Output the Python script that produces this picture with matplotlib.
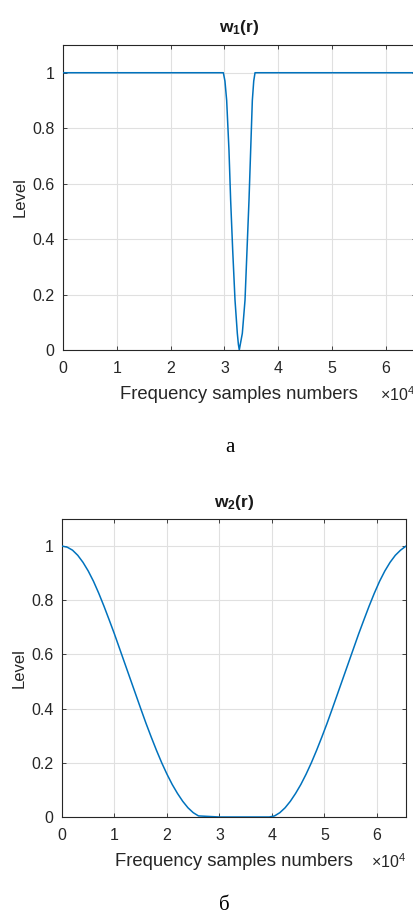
import matplotlib
matplotlib.use("Agg")
import matplotlib.pyplot as plt
from matplotlib.ticker import FixedLocator, FuncFormatter

# ---- data ----
# w1(r): flat 1 with a narrow notch around the middle
w1_x = [0, 29000, 29800, 30100, 30420, 30850, 31160, 31540, 31970, 32400, 32600, 32768,
        32950, 33330, 33830, 34200, 34570, 34880, 35190, 35450, 35690, 36500, 65536]
w1_y = [1.0, 1.0, 1.0, 0.97, 0.90, 0.72, 0.54, 0.36, 0.18, 0.06, 0.02, 0.0,
        0.02, 0.06, 0.18, 0.36, 0.54, 0.72, 0.90, 0.97, 1.0, 1.0, 1.0]

# w2(r): smooth descent to zero, flat zero band, smooth rise back to 1
w2_x = [0, 1000, 2000, 3000, 4000, 5000, 6000, 7000, 8000, 9000, 10000, 11000, 12000,
        13000, 14000, 15000, 16000, 17000, 18000, 19000, 20000, 21000, 22000, 23000,
        24000, 25000, 26000, 30000, 35000, 39500,
        40500, 41500, 42500, 43500, 44500, 45500, 46500, 47500, 48500, 49500, 50500,
        51500, 52500, 53500, 54500, 55500, 56500, 57500, 58500, 59500, 60500, 61500,
        62500, 63500, 64500, 65536]
w2_y = [1.0, 0.996, 0.985, 0.966, 0.94, 0.908, 0.87, 0.826, 0.778, 0.727, 0.675, 0.62,
        0.565, 0.51, 0.455, 0.40, 0.346, 0.295, 0.246, 0.2, 0.158, 0.12, 0.087, 0.058,
        0.034, 0.016, 0.004, 0.0, 0.0, 0.0,
        0.004, 0.016, 0.034, 0.058, 0.087, 0.12, 0.158, 0.2, 0.246, 0.295, 0.346,
        0.40, 0.455, 0.51, 0.565, 0.62, 0.675, 0.727, 0.778, 0.826, 0.87, 0.908,
        0.94, 0.966, 0.985, 1.0]

x_ticks = [0, 10000, 20000, 30000, 40000, 50000, 60000]
y_ticks = [0, 0.2, 0.4, 0.6, 0.8, 1.0]
titles = [r"$\mathbf{w_1(r)}$", r"$\mathbf{w_2(r)}$"]
captions = ["a", "б"]
xlabel = "Frequency samples numbers"
ylabel = "Level"

plt.rcParams["font.family"] = ["Liberation Sans", "DejaVu Sans"]
plt.rcParams["mathtext.fontset"] = "custom"
plt.rcParams["mathtext.rm"] = "Liberation Sans"
plt.rcParams["mathtext.bf"] = "Liberation Sans:bold"
plt.rcParams["mathtext.it"] = "Liberation Sans:italic"

fig = plt.figure(figsize=(4.14, 9.22), dpi=100)

W, H = 414.0, 922.0
boxes = [
    (63, 415.6, 45, 350),
    (62, 406, 519, 817),
]
datas = [(w1_x, w1_y), (w2_x, w2_y)]
caption_y = [447, 905]
offset_y = [395, 862]

line_color = "#0072BD"
spine_col = "#262626"

for i, ((l, r, t, b), (xs, ys)) in enumerate(zip(boxes, datas)):
    ax = fig.add_axes([l / W, 1 - b / H, (r - l) / W, (b - t) / H])
    ax.plot(xs, ys, color=line_color, lw=1.1, zorder=3)
    ax.set_xlim(0, 65536)
    ax.set_ylim(0, 1.1)
    ax.xaxis.set_major_locator(FixedLocator(x_ticks))
    ax.yaxis.set_major_locator(FixedLocator(y_ticks))
    ax.xaxis.set_major_formatter(FuncFormatter(lambda v, p: f"{v/1e4:g}"))
    ax.yaxis.set_major_formatter(FuncFormatter(lambda v, p: f"{v:g}"))
    ax.grid(True, color="#e0e0e0", lw=0.8, zorder=0)
    ax.tick_params(direction="in", length=3, width=0.6, colors=spine_col,
                   labelsize=11.5, labelcolor="#262626", top=True, right=True)
    ax.tick_params(axis="x", pad=8)
    ax.tick_params(axis="y", pad=6)
    for s in ax.spines.values():
        s.set_color(spine_col)
        s.set_linewidth(0.8)
    ax.set_title(titles[i], fontsize=12.5, color="#1a1a1a", pad=9)
    ax.set_xlabel(xlabel, fontsize=13.3, color="#262626", labelpad=7)
    ax.set_ylabel(ylabel, fontsize=12, color="#262626", labelpad=3)
    ax.text(1.0, -(offset_y[i] - b) / (b - t), r"$\times10^{4}$",
            transform=ax.transAxes, ha="right", va="center", fontsize=11.5,
            color="#262626")
    fig.text(0.555 if i == 0 else 0.541, 1 - caption_y[i] / H, captions[i],
             ha="center", va="center", fontsize=15, family="Liberation Serif",
             color="black")

fig.savefig("out.png", dpi=100)
